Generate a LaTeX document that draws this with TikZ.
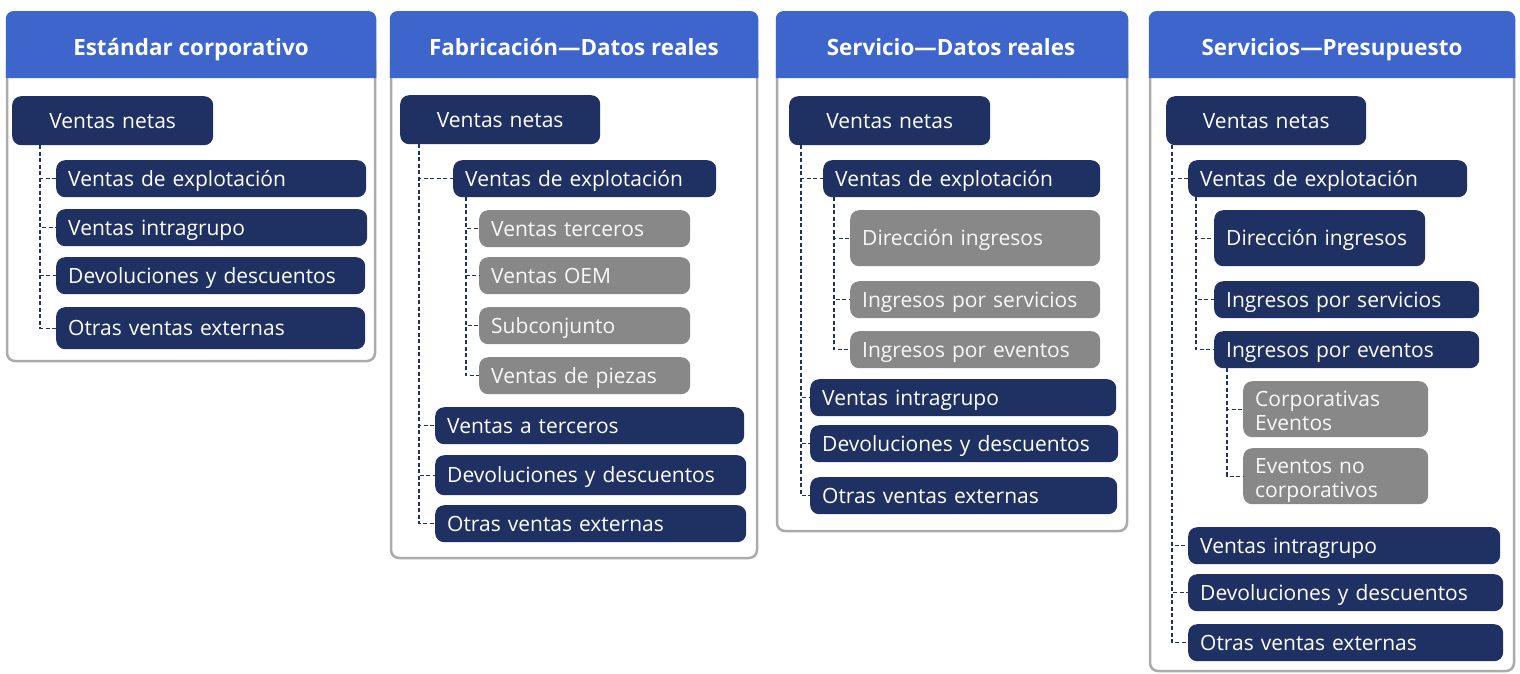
\documentclass[tikz,border=0pt]{standalone}
\usepackage{fontspec}
\setmainfont{Open Sans}
\definecolor{hdr}{HTML}{3D65CC}
\definecolor{navy}{HTML}{1F3163}
\definecolor{gnode}{HTML}{888888}
\definecolor{frame}{HTML}{ABABAB}
\tikzset{
 base/.style={anchor=north west, rounded corners=9pt, text=white, inner xsep=12pt, inner ysep=0pt, align=left, font=\fontsize{21}{24}\selectfont,
   text height=18.8pt, text depth=3.6pt},
 two/.style={text height=18pt, text depth=24pt},
 dk/.style={base, fill=navy},
 gr/.style={base, fill=gnode, text=white!95!gray},
 ttl/.style={text=white, anchor=base, font=\fontsize{22.4}{26}\selectfont\bfseries},
 conn/.style={draw=navy, line width=1.2pt, dash pattern=on 4pt off 2.5pt},
 frm/.style={draw=frame, line width=2.5pt, rounded corners=8pt},
 hd/.style={fill=hdr},
}
\begin{document}
\begin{tikzpicture}[x=1pt,y=-1pt]
\useasboundingbox[fill=white] (0,0) rectangle (1520,673);
% ---------- panel frames ----------
\draw[frm] (7,60) -- (7,361) -- (375,361) -- (375,60);
\fill[hd] (5.75,78) [rounded corners=8pt]-- (5.75,11) -- (376.25,11) [sharp corners]-- (376.25,78) -- cycle;
\node[ttl] (t1) at (191,55) {Estándar corporativo};

\draw[frm] (391,60) -- (391,558) -- (757,558) -- (757,60);
\fill[hd] (389.75,78) [rounded corners=8pt]-- (389.75,11) -- (758.25,11) [sharp corners]-- (758.25,78) -- cycle;
\node[ttl] (t2) at (574,55) {Fabricación—Datos reales};

\draw[frm] (777,60) -- (777,531) -- (1127,531) -- (1127,60);
\fill[hd] (775.75,78) [rounded corners=8pt]-- (775.75,11) -- (1128.25,11) [sharp corners]-- (1128.25,78) -- cycle;
\node[ttl] (t3) at (951,55) {Servicio—Datos reales};

\draw[frm] (1150,60) -- (1150,671) -- (1514,671) -- (1514,60);
\fill[hd] (1148.75,78) [rounded corners=8pt]-- (1148.75,11) -- (1515.25,11) [sharp corners]-- (1515.25,78) -- cycle;
\node[ttl] (t4) at (1332,55) {Servicios—Presupuesto};

% ---------- panel 1 ----------
\node[dk, align=center, text width=177, minimum height=49] (p1n) at (12,96) {Ventas netas};
\node[dk, text width=286, minimum height=37] (p1a) at (56,160) {Ventas de explotación};
\node[dk, text width=287, minimum height=37] (p1b) at (56,209) {Ventas intragrupo};
\node[dk, text width=285, minimum height=37] (p1c) at (56,257) {Devoluciones y descuentos};
\node[dk, text width=285, minimum height=42] (p1d) at (56,307) {Otras ventas externas};
\foreach \c in {p1a,p1b,p1c,p1d}
  \draw[conn] ([xshift=28pt]p1n.south west) |- (\c.west);

% ---------- panel 2 ----------
\node[dk, align=center, text width=176, minimum height=49] (p2n) at (400,95) {Ventas netas};
\node[dk, text width=239, minimum height=37] (p2a) at (453,160) {Ventas de explotación};
\node[gr, text width=187, minimum height=37] (p2a1) at (479,210) {Ventas terceros};
\node[gr, text width=187, minimum height=37] (p2a2) at (479,257) {Ventas OEM};
\node[gr, text width=187, minimum height=37] (p2a3) at (479,307) {Subconjunto};
\node[gr, text width=187, minimum height=37] (p2a4) at (479,357) {Ventas de piezas};
\node[dk, text width=285, minimum height=37] (p2b) at (435,407) {Ventas a terceros};
\node[dk, text width=287, minimum height=40] (p2c) at (435,455) {Devoluciones y descuentos};
\node[dk, text width=287, minimum height=37] (p2d) at (435,505) {Otras ventas externas};
\foreach \c in {p2a,p2b,p2c,p2d}
  \draw[conn] ([xshift=19pt]p2n.south west) |- (\c.west);
\foreach \c in {p2a1,p2a2,p2a3,p2a4}
  \draw[conn] ([xshift=13pt]p2a.south west) |- (\c.west);

% ---------- panel 3 ----------
\node[dk, align=center, text width=177, minimum height=49] (p3n) at (789,96) {Ventas netas};
\node[dk, text width=253, minimum height=37] (p3a) at (823,160) {Ventas de explotación};
\node[gr, text width=226, minimum height=56] (p3a1) at (850,210) {Dirección ingresos};
\node[gr, text width=226, minimum height=37] (p3a2) at (850,281) {Ingresos por servicios};
\node[gr, text width=226, minimum height=37] (p3a3) at (850,331) {Ingresos por eventos};
\node[dk, text width=282, minimum height=37] (p3b) at (810,379) {Ventas intragrupo};
\node[dk, text width=284, minimum height=37] (p3c) at (810,425) {Devoluciones y descuentos};
\node[dk, text width=283, minimum height=37] (p3d) at (810,477) {Otras ventas externas};
\foreach \c in {p3a,p3b,p3c,p3d}
  \draw[conn] ([xshift=12pt]p3n.south west) |- (\c.west);
\foreach \c in {p3a1,p3a2,p3a3}
  \draw[conn] ([xshift=11pt]p3a.south west) |- (\c.west);

% ---------- panel 4 ----------
\node[dk, align=center, text width=176, minimum height=49] (p4n) at (1166,96) {Ventas netas};
\node[dk, text width=255, minimum height=37] (p4a) at (1188,160) {Ventas de explotación};
\node[dk, text width=187, minimum height=56] (p4a1) at (1214,210) {Dirección ingresos};
\node[dk, text width=241, minimum height=37] (p4a2) at (1214,281) {Ingresos por servicios};
\node[dk, text width=241, minimum height=37] (p4a3) at (1214,331) {Ingresos por eventos};
\node[gr, two, text width=161, minimum height=56] (p4e1) at (1243,381) {Corporativas\\Eventos};
\node[gr, two, text width=161, minimum height=56] (p4e2) at (1243,448) {Eventos no\\corporativos};
\node[dk, text width=288, minimum height=37] (p4b) at (1188,527) {Ventas intragrupo};
\node[dk, text width=291, minimum height=37] (p4c) at (1188,574) {Devoluciones y descuentos};
\node[dk, text width=291, minimum height=37] (p4d) at (1188,624) {Otras ventas externas};
\foreach \c in {p4a,p4b,p4c,p4d}
  \draw[conn] ([xshift=6pt]p4n.south west) |- (\c.west);
\foreach \c in {p4a1,p4a2,p4a3}
  \draw[conn] ([xshift=8pt]p4a.south west) |- (\c.west);
\foreach \c in {p4e1,p4e2}
  \draw[conn] ([xshift=13pt]p4a3.south west) |- (\c.west);
\end{tikzpicture}
\end{document}
